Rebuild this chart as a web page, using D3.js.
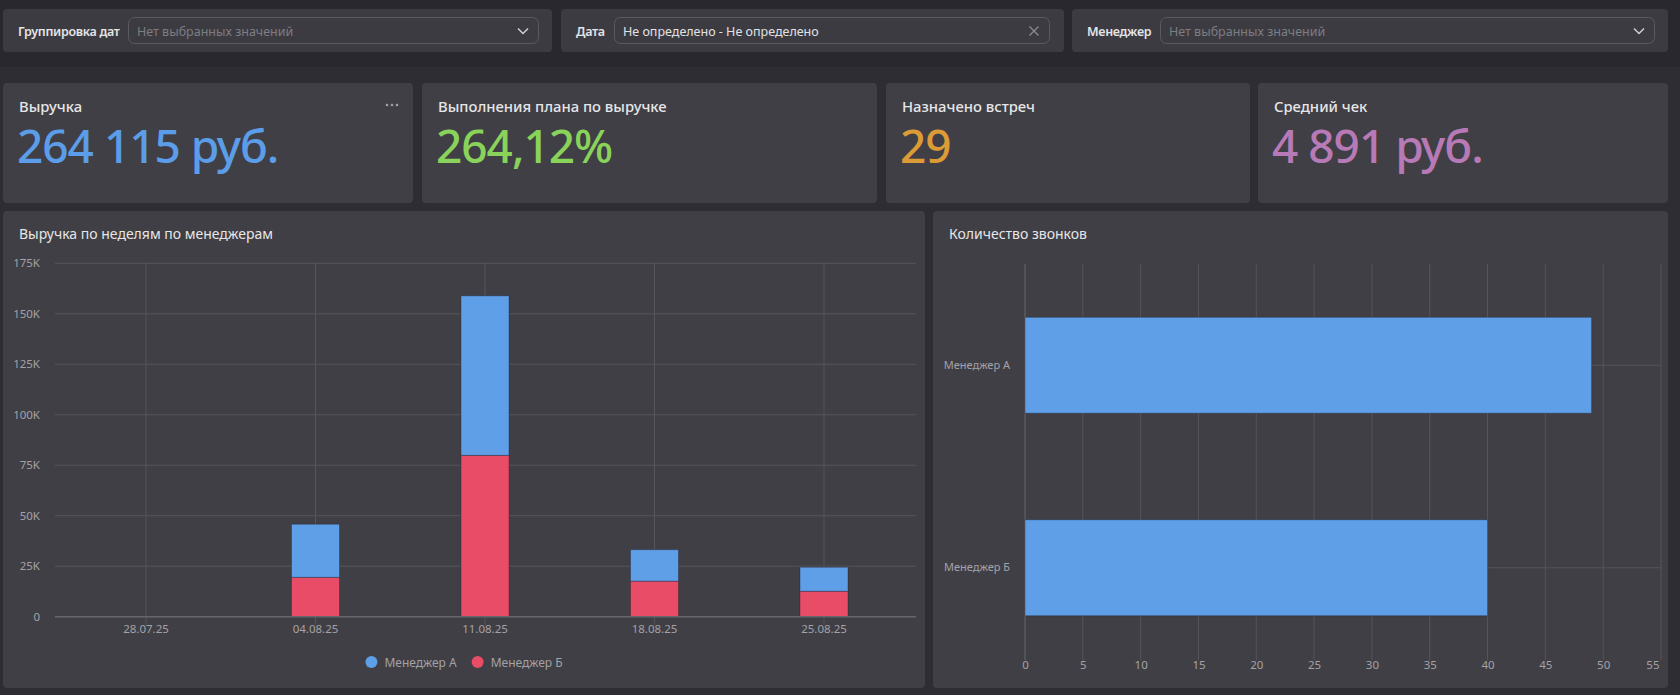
<!DOCTYPE html>
<html><head><meta charset="utf-8">
<script src="https://cdn.jsdelivr.net/npm/d3@7"></script>
<style>
html,body{margin:0;padding:0;background:#2e2d33;overflow:hidden}
svg{display:block;font-family:"Noto Sans",sans-serif}
</style></head><body>
<svg id="c" width="1680" height="695"></svg>
<script>
// ---------- data ----------
const filterLabels = ["Группировка дат", "Дата", "Менеджер"];
const filterValues = ["Нет выбранных значений", "Не определено - Не определено", "Нет выбранных значений"];
const filterIsPlaceholder = [true, false, true];
const filterIcons = ["chevron", "cross", "chevron"];

const kpiTitles = ["Выручка", "Выполнения плана по выручке", "Назначено встреч", "Средний чек"];
const kpiValues = ["264 115 руб.", "264,12%", "29", "4 891 руб."];
const kpiColors = ["#5b9de8", "#8ad35a", "#dc9b36", "#b77ab6"];

const chart1Title = "Выручка по неделям по менеджерам";
const weeks = ["28.07.25", "04.08.25", "11.08.25", "18.08.25", "25.08.25"];
const seriesNames = ["Менеджер А", "Менеджер Б"];
const revenueA = [0, 26300, 79000, 15600, 11900];
const revenueB = [0, 19500, 79900, 17600, 12600];
const revenueTicks = [0, 25000, 50000, 75000, 100000, 125000, 150000, 175000];
const seriesColors = ["#5f9fe8", "#e84c67"];

const chart2Title = "Количество звонков";
const managers = ["Менеджер А", "Менеджер Б"];
const calls = [49, 40];
const callTicks = [0, 5, 10, 15, 20, 25, 30, 35, 40, 45, 50, 55];

// ---------- styles ----------
const C = {
  bg: "#2e2d33", header: "#29282e", card: "#403f45", fcard: "#3c3b41",
  border: "#5b5a60", grid: "#56555b", axis: "#67666c",
  title: "#e6e6e8", label: "#a3a2a7", placeholder: "#7e7d83", text: "#e2e2e4"
};

const svg = d3.select("#c");
svg.append("rect").attr("width", 1680).attr("height", 695).attr("fill", C.bg);
svg.append("rect").attr("width", 1680).attr("height", 67).attr("fill", C.header);

// ---------- filters ----------
const filterBoxes = [
  {x: 3, w: 549, bx: 128, bw: 410},
  {x: 561, w: 503, bx: 614, bw: 435},
  {x: 1072, w: 596, bx: 1160, bw: 494}
];
filterBoxes.forEach((f, i) => {
  const g = svg.append("g");
  g.append("rect").attr("x", f.x).attr("y", 9).attr("width", f.w).attr("height", 43).attr("rx", 4).attr("fill", C.fcard);
  g.append("text").attr("x", f.x + 15).attr("y", 31).attr("dominant-baseline", "central")
    .attr("font-size", 12.5).attr("font-weight", 600).attr("letter-spacing", -0.3)
    .attr("fill", "#e4e4e6").text(filterLabels[i]);
  g.append("rect").attr("x", f.bx + 0.5).attr("y", 17.5).attr("width", f.bw).attr("height", 26).attr("rx", 6)
    .attr("fill", "none").attr("stroke", C.border);
  g.append("text").attr("x", f.bx + 9).attr("y", 31).attr("dominant-baseline", "central")
    .attr("font-size", 12.5).attr("fill", filterIsPlaceholder[i] ? C.placeholder : C.text).text(filterValues[i]);
  const ix = f.bx + f.bw - 15, iy = 31;
  if (filterIcons[i] === "chevron") {
    g.append("path").attr("d", `M${ix-5},${iy-2.5}L${ix},${iy+2.5}L${ix+5},${iy-2.5}`)
      .attr("fill", "none").attr("stroke", "#d0d0d3").attr("stroke-width", 1.5);
  } else {
    g.append("path").attr("d", `M${ix-4.5},${iy-4.5}L${ix+4.5},${iy+4.5}M${ix+4.5},${iy-4.5}L${ix-4.5},${iy+4.5}`)
      .attr("fill", "none").attr("stroke", "#8e8d92").attr("stroke-width", 1.2);
  }
});

// ---------- KPI cards ----------
const kpiBoxes = [{x: 3, w: 410}, {x: 422, w: 455}, {x: 886, w: 364}, {x: 1258, w: 410}];
kpiBoxes.forEach((k, i) => {
  const g = svg.append("g");
  g.append("rect").attr("x", k.x).attr("y", 83).attr("width", k.w).attr("height", 120).attr("rx", 4).attr("fill", C.card);
  g.append("text").attr("x", k.x + 16).attr("y", 106).attr("dominant-baseline", "central")
    .attr("font-size", 14.8).attr("font-weight", 500).attr("fill", C.title).text(kpiTitles[i]);
  g.append("text").attr("x", k.x + 14).attr("y", 163)
    .attr("font-size", 46).attr("font-weight", 500).attr("letter-spacing", -1)
    .attr("fill", kpiColors[i]).text(kpiValues[i]);
});
// menu dots on first card
[-5, 0, 5].forEach(d => svg.append("circle").attr("cx", 392 + d).attr("cy", 105).attr("r", 1.3).attr("fill", "#a0a0a4"));

// ---------- chart 1: stacked columns ----------
{
  const card = {x: 3, y: 211, w: 922, h: 477};
  svg.append("rect").attr("x", card.x).attr("y", card.y).attr("width", card.w).attr("height", card.h).attr("rx", 4).attr("fill", C.card);
  svg.append("text").attr("x", 19).attr("y", 233).attr("dominant-baseline", "central")
    .attr("font-size", 14).attr("fill", C.title).text(chart1Title);

  const plotL = 55, plotR = 916;
  const x = d3.scaleBand().domain(weeks).range([61.25, 908.75]).padding(0);
  const y = d3.scaleLinear().domain([0, 175000]).range([616.7, 263.3]);
  const g = svg.append("g");

  // horizontal grid
  g.selectAll(".hg").data(revenueTicks.filter(t => t > 0)).join("line")
    .attr("x1", plotL).attr("x2", plotR).attr("y1", d => y(d)).attr("y2", d => y(d))
    .attr("stroke", C.grid).attr("stroke-width", 1);
  // vertical grid at categories
  g.selectAll(".vg").data(weeks).join("line")
    .attr("x1", d => x(d) + x.bandwidth() / 2).attr("x2", d => x(d) + x.bandwidth() / 2)
    .attr("y1", y(175000)).attr("y2", y(0) + 8).attr("stroke", C.grid).attr("stroke-width", 1);

  // stacked bars
  const rows = weeks.map((w, i) => ({week: w, a: revenueA[i], b: revenueB[i]}));
  const stack = d3.stack().keys(["b", "a"])(rows);
  const colorByKey = {a: seriesColors[0], b: seriesColors[1]};
  const bw = 48;
  stack.forEach(layer => {
    g.selectAll(null).data(layer.filter(d => d[1] - d[0] > 0)).join("rect")
      .attr("x", d => x(d.data.week) + x.bandwidth() / 2 - bw / 2)
      .attr("y", d => y(d[1]))
      .attr("width", bw)
      .attr("height", d => y(d[0]) - y(d[1]))
      .attr("fill", colorByKey[layer.key])
      .attr("stroke", "rgba(30,30,40,0.35)").attr("stroke-width", 1);
  });

  // axis line at 0
  g.append("line").attr("x1", plotL).attr("x2", plotR).attr("y1", y(0)).attr("y2", y(0))
    .attr("stroke", C.axis).attr("stroke-width", 1.5);

  // y axis labels
  const yAxis = d3.axisLeft(y).tickValues(revenueTicks).tickSize(0).tickPadding(0)
    .tickFormat(v => v === 0 ? "0" : (v / 1000) + "K");
  const ya = svg.append("g").attr("transform", "translate(40,0)").call(yAxis);
  ya.select(".domain").remove();
  ya.selectAll("text").attr("fill", C.label).attr("font-size", 11.5).attr("font-family", "Noto Sans");

  // x axis labels
  const xAxis = d3.axisBottom(x).tickSize(0).tickPadding(0);
  const xa = svg.append("g").attr("transform", "translate(0,625)").call(xAxis);
  xa.select(".domain").remove();
  xa.selectAll("text").attr("fill", C.label).attr("font-size", 11.5).attr("font-family", "Noto Sans");

  // legend
  const lg = svg.append("g");
  const items = seriesNames.map((n, i) => {
    const t = lg.append("text").attr("y", 662).attr("dominant-baseline", "central")
      .attr("font-size", 12).attr("fill", C.label).text(n);
    return {t, w: t.node().getComputedTextLength(), c: seriesColors[i]};
  });
  const itemW = items.map(it => 12 + 7 + it.w);
  const gap = 15;
  const total = d3.sum(itemW) + gap * (items.length - 1);
  let cx = card.x + card.w / 2 - total / 2;
  items.forEach((it, i) => {
    lg.append("circle").attr("cx", cx + 6).attr("cy", 662).attr("r", 6).attr("fill", it.c);
    it.t.attr("x", cx + 19);
    cx += itemW[i] + gap;
  });
}

// ---------- chart 2: horizontal bars ----------
{
  const card = {x: 933, y: 211, w: 735, h: 477};
  svg.append("rect").attr("x", card.x).attr("y", card.y).attr("width", card.w).attr("height", card.h).attr("rx", 4).attr("fill", C.card);
  svg.append("text").attr("x", 949).attr("y", 233).attr("dominant-baseline", "central")
    .attr("font-size", 14).attr("fill", C.title).text(chart2Title);

  const x = d3.scaleLinear().domain([0, 55]).range([1025, 1661]);
  const y = d3.scaleBand().domain(managers).range([264, 669]).paddingInner(0).paddingOuter(0);
  const g = svg.append("g");

  // vertical grid
  g.selectAll(".vg").data(callTicks).join("line")
    .attr("x1", d => x(d)).attr("x2", d => x(d)).attr("y1", 264).attr("y2", 660)
    .attr("stroke", d => d === 0 ? C.axis : C.grid).attr("stroke-width", 1);
  // horizontal grid at categories
  g.selectAll(".hg").data(managers).join("line")
    .attr("x1", x(0)).attr("x2", x(55)).attr("y1", d => y(d) + y.bandwidth() / 2).attr("y2", d => y(d) + y.bandwidth() / 2)
    .attr("stroke", C.grid).attr("stroke-width", 1);

  const bh = 96;
  g.selectAll(".bar").data(managers).join("rect")
    .attr("x", x(0)).attr("y", d => y(d) + y.bandwidth() / 2 - bh / 2)
    .attr("width", (d, i) => x(calls[i]) - x(0)).attr("height", bh)
    .attr("fill", seriesColors[0]).attr("stroke", "rgba(30,30,40,0.35)").attr("stroke-width", 1);

  // x labels
  const xAxis = d3.axisBottom(x).tickValues(callTicks).tickSize(0).tickPadding(0);
  const xa = svg.append("g").attr("transform", "translate(0,661)").call(xAxis);
  xa.select(".domain").remove();
  xa.selectAll("text").attr("fill", C.label).attr("font-size", 11.5).attr("font-family", "Noto Sans");
  xa.selectAll(".tick").filter(d => d === 55).select("text").attr("text-anchor", "end").attr("x", -2);

  // category labels
  const yAxis = d3.axisLeft(y).tickSize(0).tickPadding(0);
  const ya = svg.append("g").attr("transform", "translate(1010,0)").call(yAxis);
  ya.select(".domain").remove();
  ya.selectAll("text").attr("fill", C.label).attr("font-size", 11).attr("font-family", "Noto Sans");
}
</script>
</body></html>
